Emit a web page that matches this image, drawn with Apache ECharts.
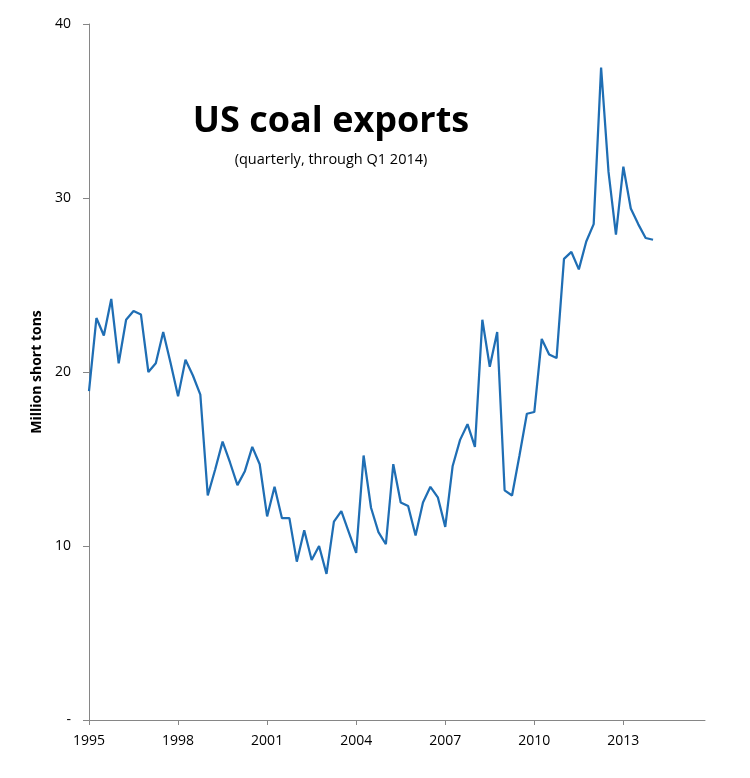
<!DOCTYPE html>
<html>
<head>
<meta charset="utf-8">
<script src="https://cdn.jsdelivr.net/npm/echarts@6/dist/echarts.min.js"></script>
<style>
  html, body { margin: 0; padding: 0; background: #fff; }
  #chart { width: 750px; height: 778px; }
</style>
</head>
<body>
<div id="chart"></div>
<script>
// quarterly categories, 1995 Q1 .. 2015 Q4 (axis runs past the data)
var firstYear = 1995;
var lastYear = 2015;
var quarters = [];
for (var y = firstYear; y <= lastYear; y++) {
  for (var q = 1; q <= 4; q++) quarters.push(y + ' Q' + q);
}

// million short tons (Q1 1995 .. Q1 2014)
var exports = [
  18.9, 23.1, 22.1, 24.2, 20.5, 23.0, 23.5, 23.3,
  20.0, 20.5, 22.3, 20.5, 18.6, 20.7, 19.8, 18.7,
  12.9, 14.4, 16.0, 14.8, 13.5, 14.3, 15.7, 14.7,
  11.7, 13.4, 11.6, 11.6, 9.1, 10.9, 9.2, 10.0,
  8.4, 11.4, 12.0, 10.8, 9.6, 15.2, 12.2, 10.8,
  10.1, 14.7, 12.5, 12.3, 10.6, 12.5, 13.4, 12.8,
  11.1, 14.6, 16.1, 17.0, 15.7, 23.0, 20.3, 22.3,
  13.2, 12.9, 15.2, 17.6, 17.7, 21.9, 21.0, 20.8,
  26.5, 26.9, 25.9, 27.5, 28.5, 37.5, 31.5, 27.9,
  31.8, 29.4, 28.5, 27.7, 27.6
];

var yTicks = [0, 10, 20, 30, 40];
var titleText = 'US coal exports';
var subtitleText = '(quarterly, through Q1 2014)';
var yAxisName = 'Million short tons';

var font = '"Open Sans", "Liberation Sans", sans-serif';
var axisGray = '#868686';

var option = {
  animation: false,
  backgroundColor: '#fff',
  title: {
    text: titleText,
    subtext: subtitleText,
    left: 326,
    top: 99,
    textAlign: 'center',
    itemGap: 12,
    textStyle: { fontFamily: font, fontSize: 36, fontWeight: 'bold', color: '#000' },
    subtextStyle: { fontFamily: font, fontSize: 14.5, color: '#000' }
  },
  grid: { left: 89, right: 45, top: 24, bottom: 58 },
  xAxis: {
    type: 'category',
    data: quarters,
    boundaryGap: false,
    axisLine: { lineStyle: { color: axisGray, width: 1 } },
    axisTick: { show: true, interval: 11, length: 5, lineStyle: { color: axisGray } },
    axisLabel: {
      interval: 11,
      margin: 14,
      fontFamily: font,
      fontSize: 14,
      color: '#000',
      formatter: function (v) { return v.slice(0, 4); }
    },
    splitLine: { show: false }
  },
  yAxis: {
    type: 'value',
    min: yTicks[0],
    max: yTicks[yTicks.length - 1],
    interval: 10,
    name: yAxisName,
    nameLocation: 'middle',
    nameGap: 45,
    nameTextStyle: { fontFamily: font, fontSize: 14, fontWeight: 'bold', color: '#000' },
    axisLine: { show: true, lineStyle: { color: axisGray, width: 1 } },
    axisTick: { show: true, length: 6, lineStyle: { color: axisGray } },
    axisLabel: {
      margin: 18,
      fontFamily: font,
      fontSize: 14,
      color: '#000',
      formatter: function (v) { return v === 0 ? '-' : String(v); }
    },
    splitLine: { show: false }
  },
  series: [{
    type: 'line',
    name: 'US coal exports',
    data: exports,
    showSymbol: false,
    symbol: 'none',
    lineStyle: { color: '#1F6EB4', width: 2.25 },
    itemStyle: { color: '#1F6EB4' }
  }]
};

var myChart = echarts.init(document.getElementById('chart'));
myChart.setOption(option);
</script>
</body>
</html>
